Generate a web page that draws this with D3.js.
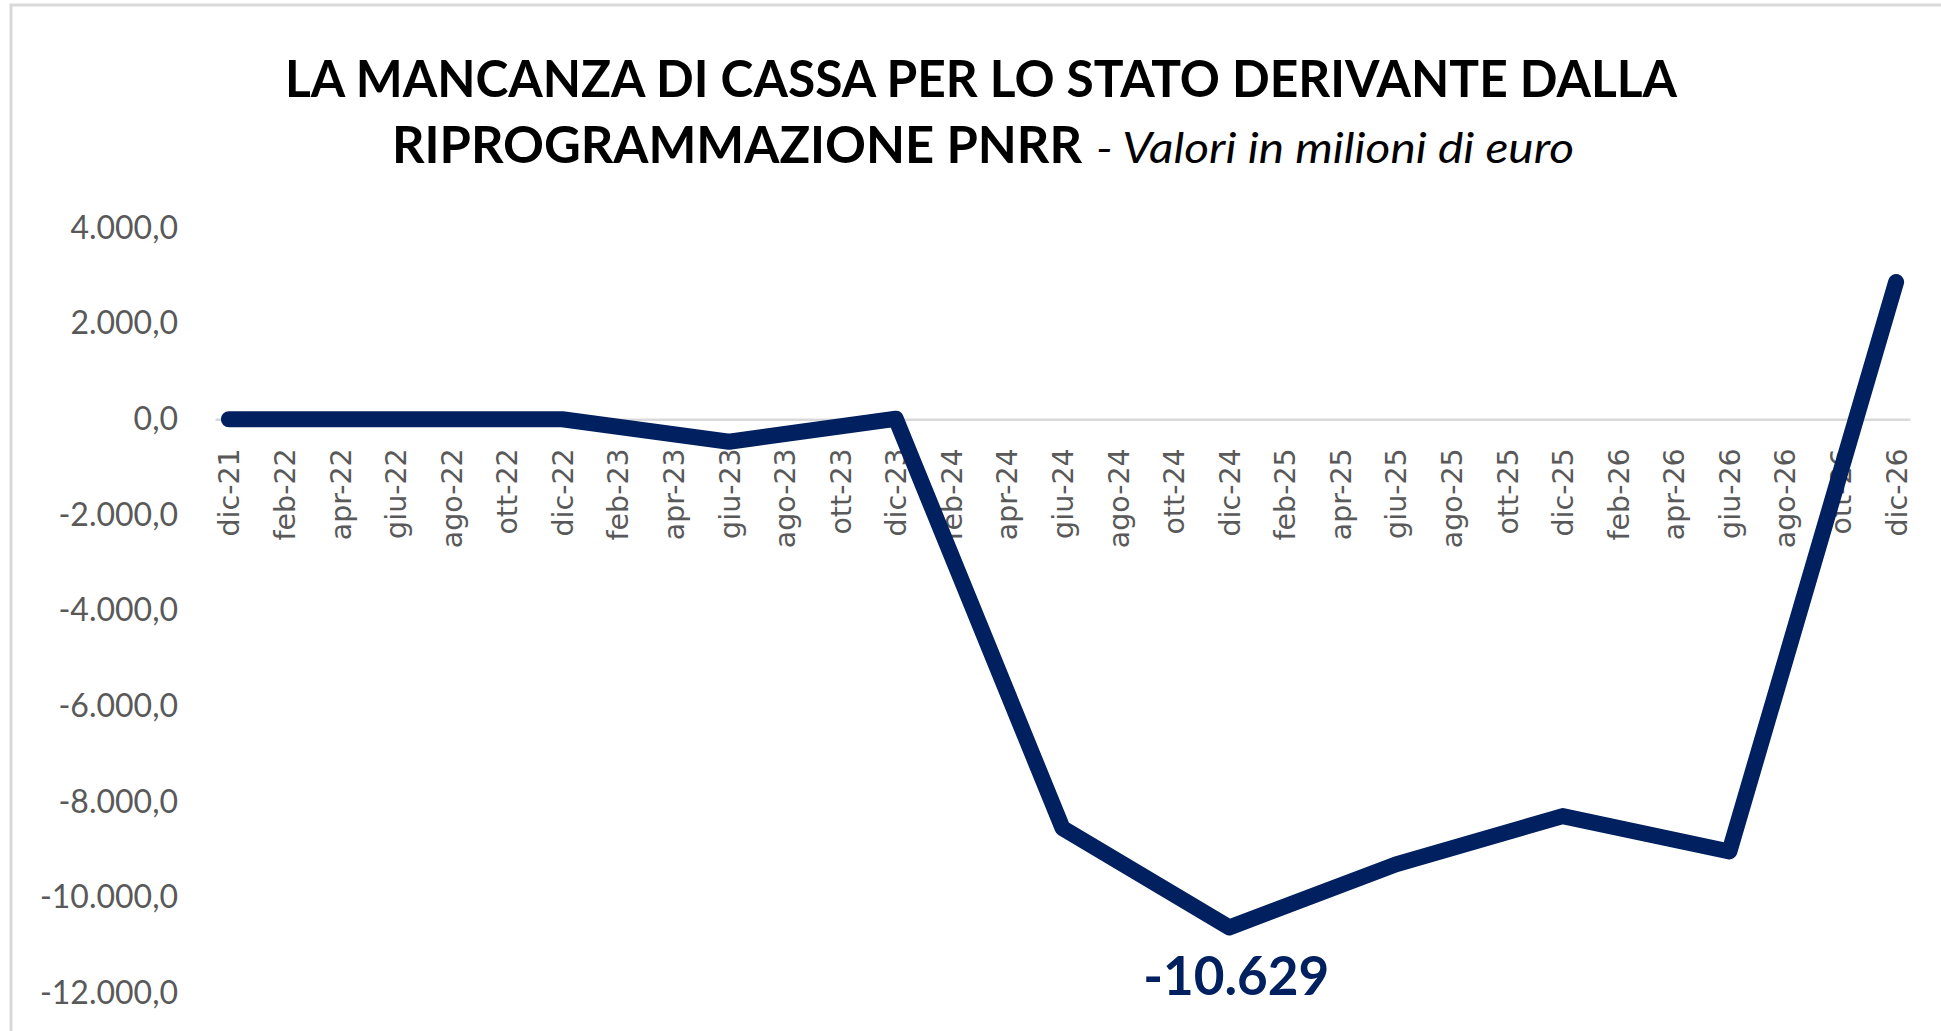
<!DOCTYPE html>
<html>
<head>
<meta charset="utf-8">
<script src="https://cdn.jsdelivr.net/npm/d3@7"></script>
<style>
  html, body { margin: 0; padding: 0; background: #fff; overflow: hidden; }
</style>
</head>
<body>
<svg id="paper"></svg>
<script>
// semiannual points of the series (milioni di euro)
const periods = ["dic-21", "giu-22", "dic-22", "giu-23", "dic-23", "giu-24",
                 "dic-24", "giu-25", "dic-25", "giu-26", "dic-26"];
const values = [0, 0, 0, -470, 10, -8550, -10629, -9310, -8300, -9040, 2870];

const tickLabels = ["dic-21", "feb-22", "apr-22", "giu-22", "ago-22", "ott-22",
    "dic-22", "feb-23", "apr-23", "giu-23", "ago-23", "ott-23",
    "dic-23", "feb-24", "apr-24", "giu-24", "ago-24", "ott-24",
    "dic-24", "feb-25", "apr-25", "giu-25", "ago-25", "ott-25",
    "dic-25", "feb-26", "apr-26", "giu-26", "ago-26", "ott-26", "dic-26"];
const yTicks = [4000, 2000, 0, -2000, -4000, -6000, -8000, -10000, -12000];

const annotation = {period: "dic-24", text: "-10.629"};

const mesi = ["gen", "feb", "mar", "apr", "mag", "giu", "lug", "ago", "set", "ott", "nov", "dic"];
// month index counted from dic-21
function monthIndex(lbl) {
    let [m, y] = lbl.split("-");
    return (+y - 21) * 12 + mesi.indexOf(m) - 11;
}

let width = 1941, height = 1031;
let svg = d3.select("#paper")
    .attr("width", width)
    .attr("height", height);

// chart frame
svg.append("rect")
    .attr("x", 11).attr("y", 5)
    .attr("width", 2000).attr("height", 1200)
    .attr("fill", "none")
    .attr("stroke", "#d9d9d9")
    .attr("stroke-width", 3);

let x = d3.scaleLinear().domain([-0.5, 60.5]).range([215, 1910]);
let y = d3.scaleLinear().domain([-12000, 4000]).range([993, 228]);

let it = d3.formatLocale({decimal: ",", thousands: ".", grouping: [3], currency: ["€", ""], minus: "-"});
let fmt = it.format(",.1f");

// title
let titleFont = "Lato, 'Open Sans', sans-serif";
svg.append("text")
    .attr("x", 285).attr("y", 97)
    .attr("textLength", 1392)
    .attr("lengthAdjust", "spacingAndGlyphs")
    .style("font-family", titleFont)
    .style("font-weight", "bold")
    .style("font-size", "52px")
    .attr("fill", "#000")
    .text("LA MANCANZA DI CASSA PER LO STATO DERIVANTE DALLA");
svg.append("text")
    .attr("x", 392).attr("y", 163)
    .attr("textLength", 690)
    .attr("lengthAdjust", "spacingAndGlyphs")
    .style("font-family", titleFont)
    .style("font-weight", "bold")
    .style("font-size", "52px")
    .attr("fill", "#000")
    .text("RIPROGRAMMAZIONE PNRR");
svg.append("text")
    .attr("x", 1096).attr("y", 163)
    .attr("textLength", 478)
    .attr("lengthAdjust", "spacingAndGlyphs")
    .style("font-family", titleFont)
    .style("font-style", "italic")
    .style("font-size", "42px")
    .attr("fill", "#000")
    .text("- Valori in milioni di euro");

// y axis labels (no line)
let yAxis = svg.append("g")
    .attr("transform", "translate(190,0)")
    .call(d3.axisLeft(y).tickValues(yTicks).tickFormat(fmt).tickSize(0).tickPadding(12));
yAxis.select(".domain").remove();
yAxis.selectAll("text")
    .style("font-family", "Lato, sans-serif")
    .style("font-size", "32px")
    .attr("fill", "#595959");

// x axis at zero
let xAxis = svg.append("g")
    .attr("transform", "translate(0," + y(0) + ")")
    .call(d3.axisBottom(x)
        .tickValues(tickLabels.map(monthIndex))
        .tickFormat((d, i) => tickLabels[i])
        .tickSize(0));
xAxis.select(".domain")
    .attr("stroke", "#d9d9d9")
    .attr("stroke-width", 2.5);
xAxis.selectAll("text")
    .attr("transform", "rotate(-90)")
    .attr("x", -29)
    .attr("y", 0)
    .attr("dy", "0.35em")
    .style("text-anchor", "end")
    .style("font-family", "'DejaVu Sans', sans-serif")
    .style("font-size", "28.5px")
    .attr("fill", "#595959");

// series
let line = d3.line()
    .x((d, i) => x(monthIndex(periods[i])))
    .y(d => y(d));
svg.append("path")
    .datum(values)
    .attr("d", line)
    .attr("fill", "none")
    .attr("stroke", "#002060")
    .attr("stroke-width", 16)
    .attr("stroke-linejoin", "round")
    .attr("stroke-linecap", "round");

// annotation of minimum
let ai = periods.indexOf(annotation.period);
svg.append("text")
    .attr("x", x(monthIndex(annotation.period)) + 7)
    .attr("y", y(values[ai]) + 68)
    .style("text-anchor", "middle")
    .style("font-family", "Lato, sans-serif")
    .style("font-weight", "bold")
    .style("font-size", "53px")
    .attr("fill", "#002060")
    .text(annotation.text);
</script>
</body>
</html>
